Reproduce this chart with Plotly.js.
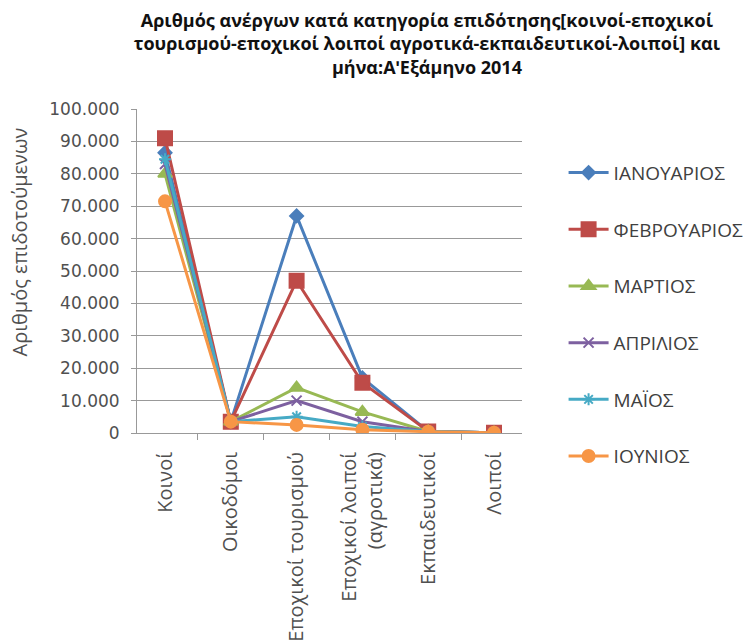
<!DOCTYPE html>
<html><head><meta charset="utf-8">
<script src="https://cdn.plot.ly/plotly-3.0.1.min.js"></script>
<style>body{margin:0;background:#fff}#c{width:749px;height:641px}</style>
</head><body><div id="c"></div>
<script>
const categories = ["Κοινοί", "Οικοδόμοι", "Εποχικοί τουρισμού", "Εποχικοί λοιποί<br>(αγροτικά)", "Εκπαιδευτικοί", "Λοιποί"];
const months = ["ΙΑΝΟΥΑΡΙΟΣ", "ΦΕΒΡΟΥΑΡΙΟΣ", "ΜΑΡΤΙΟΣ", "ΑΠΡΙΛΙΟΣ", "ΜΑΪΟΣ", "ΙΟΥΝΙΟΣ"];
const jan = [86500, 3500, 67000, 17000, 500, 100];
const feb = [91000, 3500, 47000, 15500, 500, 100];
const mar = [80000, 3500, 14000, 6500, 500, 100];
const apr = [83000, 3500, 10000, 3500, 500, 100];
const may = [84500, 3500, 5000, 2000, 500, 100];
const jun = [71500, 3500, 2500, 1000, 400, 100];
const series = [jan, feb, mar, apr, may, jun];
const colors = ["#4A7EBB", "#BE4B48", "#98B954", "#7D60A0", "#46AAC5", "#F79646"];
const symbols = ["diamond", "square", "triangle-up", "x-thin-open", "asterisk-open", "circle"];
const sizes = [10, 14, 12, 10, 10, 12];

const traces = series.map((s, i) => ({
  x: categories, y: s, name: months[i], type: "scatter", mode: "lines+markers",
  legendgroup: "g" + i,
  line: {color: colors[i], width: 3},
  marker: {symbol: symbols[i], size: sizes[i], color: colors[i], line: {color: colors[i], width: 2}}
}));

Plotly.newPlot("c", traces, {
  width: 749, height: 641,
  separators: ",.",
  margin: {l: 137, r: 227, t: 109, b: 208, autoexpand: false},
  paper_bgcolor: "#fff", plot_bgcolor: "#fff",
  font: {family: "Open Sans, sans-serif", color: "#404040"},
  title: {
    text: "<b>Αριθμός ανέργων κατά κατηγορία επιδότησης[κοινοί-εποχικοί<br>τουρισμού-εποχικοί λοιποί αγροτικά-εκπαιδευτικοί-λοιποί] και<br>μήνα:Α\u02B9Εξάμηνο 2014</b>",
    font: {size: 18, color: "#111"}, x: 0.57, xanchor: "center", y: 0.958, yanchor: "top"
  },
  xaxis: {
    type: "category", tickangle: -90, tickson: "boundaries", ticks: "outside", ticklen: 6,
    tickcolor: "#999", showline: true, linecolor: "#999", showgrid: false,
    tickfont: {size: 20, color: "#505050"}, ticklabelstandoff: 10
  },
  yaxis: {
    range: [0, 100000], dtick: 10000, tickformat: ",d", showgrid: true, gridcolor: "#999",
    showline: true, linecolor: "#999", ticks: "outside", ticklen: 5, tickcolor: "#999",
    zeroline: false, tickfont: {family: "DejaVu Sans, sans-serif", size: 17, color: "#505050"},
    ticklabelstandoff: 8
  },
  annotations: [{
    text: "Αριθμός επιδοτούμενων", textangle: -90, xref: "paper", yref: "paper",
    x: -0.305, y: 0.59, xanchor: "center", yanchor: "middle", showarrow: false,
    font: {size: 20, color: "#505050"}
  }],
  legend: {x: 1.108, xanchor: "left", y: 0.862, yanchor: "top", tracegroupgap: 29,
    maxheight: 600, itemwidth: 40,
    font: {size: 19, color: "#404040"}, traceorder: "grouped"},
  showlegend: true
}, {displayModeBar: false});
</script></body></html>
